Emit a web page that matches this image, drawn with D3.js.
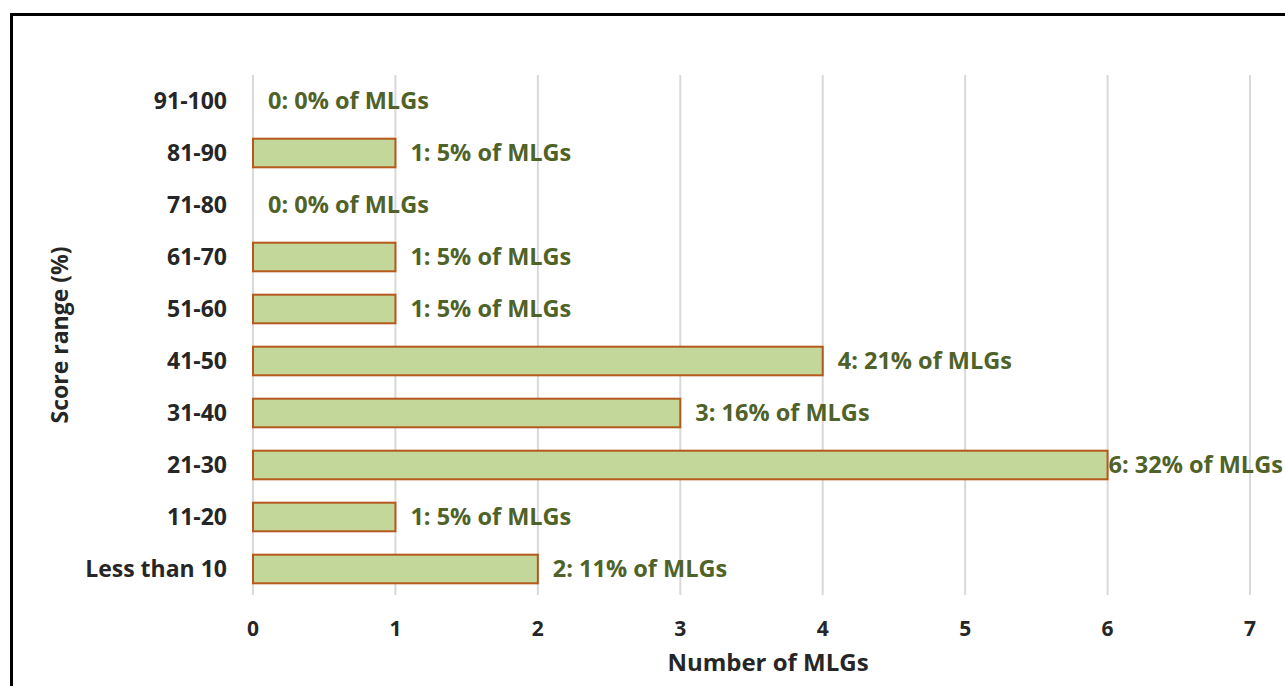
<!DOCTYPE html>
<html>
<head>
<meta charset="utf-8">
<script src="https://cdn.jsdelivr.net/npm/d3@7"></script>
<style>
body{margin:0;background:#fff;overflow:hidden;}
</style>
</head>
<body>
<div class="chart"></div>
<script>
var categories = ["91-100","81-90","71-80","61-70","51-60","41-50","31-40","21-30","11-20","Less than 10"];
var counts = [0,1,0,1,1,4,3,6,1,2];
var percents = [0,5,0,5,5,21,16,32,5,11];
var xTicks = [0,1,2,3,4,5,6,7];

var width = 1285, height = 686;
var fontFamily = "'Open Sans', sans-serif";
var textColor = '#262626';
var svg = d3.select('.chart').append('svg')
	.attr('width', width)
	.attr('height', height);

// frame, runs off the right and bottom edge like the original crop
svg.append('rect')
	.attr('x', 11.5).attr('y', 14.5)
	.attr('width', 1400).attr('height', 800)
	.attr('fill', 'none')
	.attr('stroke', '#000')
	.attr('stroke-width', 3);

var plotLeft = 253, plotRight = 1250, plotTop = 75, plotBottom = 595;

var x = d3.scaleLinear().domain([0, 7]).range([plotLeft, plotRight]);
var y = d3.scaleBand().domain(categories).range([plotTop, plotBottom]).paddingInner(0.45).paddingOuter(0.225);

// grid
svg.append('g').selectAll('line')
	.data(xTicks)
	.enter().append('line')
	.attr('x1', function(d){ return x(d); })
	.attr('x2', function(d){ return x(d); })
	.attr('y1', plotTop)
	.attr('y2', plotBottom)
	.attr('stroke', '#d9d9d9')
	.attr('stroke-width', 2);

// bars
var bars = svg.append('g');
counts.forEach(function(d, i){
	if(d <= 0) return;
	bars.append('rect')
		.attr('x', x(0))
		.attr('y', y(categories[i]))
		.attr('width', x(d) - x(0))
		.attr('height', y.bandwidth())
		.attr('fill', '#c4d79b')
		.attr('stroke', '#b5581b')
		.attr('stroke-width', 2);
});

// value labels
var labels = svg.append('g');
counts.forEach(function(d, i){
	var lx = x(d) + 15;
	if(d == 6) lx = x(d) + 1;
	labels.append('text')
		.attr('x', lx)
		.attr('y', y(categories[i]) + y.bandwidth()/2)
		.attr('dy', '0.36em')
		.attr('font-size', 23.5)
		.attr('font-weight', 'bold')
		.attr('font-family', fontFamily)
		.attr('fill', '#4f6228')
		.text(d + ': ' + percents[i] + '% of MLGs');
});

// y category labels
var yAxis = svg.append('g');
categories.forEach(function(c){
	yAxis.append('text')
		.attr('x', plotLeft - 26)
		.attr('y', y(c) + y.bandwidth()/2)
		.attr('dy', '0.36em')
		.attr('text-anchor', 'end')
		.attr('font-size', 23)
		.attr('font-weight', 'bold')
		.attr('font-family', fontFamily)
		.attr('fill', textColor)
		.text(c);
});

// x tick labels
svg.append('g').selectAll('text')
	.data(xTicks)
	.enter().append('text')
	.attr('x', function(d){ return x(d); })
	.attr('y', 628)
	.attr('dy', '0.36em')
	.attr('text-anchor', 'middle')
	.attr('font-size', 21)
	.attr('font-weight', 'bold')
	.attr('font-family', fontFamily)
	.attr('fill', textColor)
	.text(function(d){ return d; });

// axis titles
svg.append('text')
	.attr('x', 768)
	.attr('y', 662)
	.attr('dy', '0.36em')
	.attr('text-anchor', 'middle')
	.attr('font-size', 24)
	.attr('font-weight', 'bold')
	.attr('font-family', fontFamily)
	.attr('fill', textColor)
	.text('Number of MLGs');

svg.append('text')
	.attr('transform', 'translate(60,335) rotate(-90)')
	.attr('dy', '0.36em')
	.attr('text-anchor', 'middle')
	.attr('font-size', 23)
	.attr('font-weight', 'bold')
	.attr('font-family', fontFamily)
	.attr('fill', textColor)
	.text('Score range (%)');
</script>
</body>
</html>
